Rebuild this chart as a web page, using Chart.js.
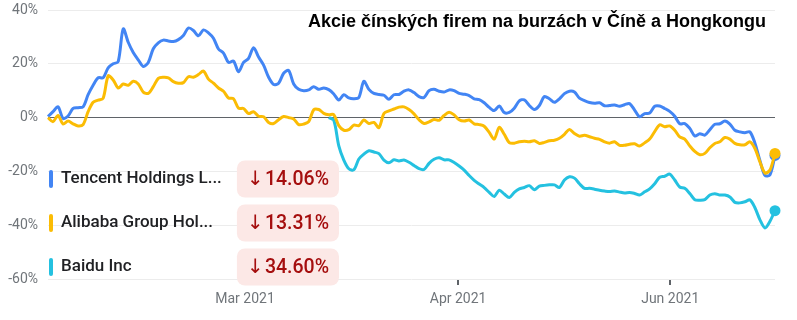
<!DOCTYPE html>
<html>
<head>
<meta charset="utf-8">
<script src="https://cdn.jsdelivr.net/npm/chart.js@4.4.1/dist/chart.umd.min.js"></script>
<style>
  html, body { margin: 0; padding: 0; background: #fff; }
  #wrap { width: 797px; height: 320px; position: relative; }
</style>
</head>
<body>
<div id="wrap"><canvas id="stockChart"></canvas></div>
<script>
// values in % change, one per trading day
const tencent = [
  0.4, 2.2, 4, -0.3, 0.6, 3.4, 3.7, 4, 8.5, 12,
  14.8, 14.8, 18.5, 20, 20.8, 33, 28, 24.2, 21.5, 19,
  20.5, 25.6, 27.8, 28.8, 28.5, 28.3, 29, 30.5, 33.3, 32.4,
  30.4, 32.6, 31.5, 29.5, 25.5, 24, 20.5, 21, 17, 20.5,
  22, 26, 22.5, 19.5, 15, 12.3, 12.8, 16.5, 17.5, 12.5,
  10.5, 10, 10.3, 11.5, 10.5, 11, 10.4, 8.8, 6.5, 8.5,
  7.3, 7, 7.5, 13.5, 10.5, 9, 8.6, 8.3, 6.8, 8.5,
  8.6, 9.8, 10.3, 9.3, 7.8, 7.5, 10, 10.5, 9.8, 9.5,
  10.3, 10, 9, 8.7, 8.2, 7, 6.7, 5.5, 3.8, 2.6,
  4.3, 1.9, 1.9, 3.5, 6.2, 6.6, 4.5, 3, 4.5, 7.8,
  7, 5.7, 7, 8.9, 9.8, 9.5, 7.2, 6.3, 5.6, 5.3,
  5.5, 4.4, 4.5, 4.7, 4.2, 4.8, 5.2, 2.8, 0.3, 1.5,
  1.7, 4.2, 4.3, 3.4, 2.3, 0.5, -2.3, -2.2, -4, -6.8,
  -6, -6.5, -4.5, -2.5, -2.3, -1.3, -2.4, -4.7, -5.3, -5.6,
  -5.3, -9.5, -16, -21.5, -21.3, -14.06
];
const alibaba = [
  0, -1.5, 0.8, -2.4, -1.3, -2.3, -3.1, -2.6, 2.2, 5.7,
  6.5, 7.2, 15.5, 14, 11, 12.5, 12, 13.5, 12.5, 9.5,
  9, 11.5, 14.6, 15, 14.8, 13.4, 12.8, 13, 15.2, 15,
  16, 17.3, 14.3, 12.8, 11, 9.8, 7.3, 7, 3.5, 3.4,
  1.5, 2.2, 0.5, 0.3, -1.8, -2.2, -0.8, 0.4, 0, -0.5,
  -2.6, -2.4, -1.5, 2.9, 3, 1.6, 1.1, 1.1, -3, -4.7,
  -4.5, -2.8, -3, -0.9, -2.2, -1.8, -3.7, 1.5, 2.5, 3.2,
  3.9, 4, 3, 1.4, -0.8, -2.2, -1.6, -0.7, -1, 0.8,
  2, 1, -0.8, -1.3, -0.9, -2.3, -2.6, -3.2, -5.5, -8,
  -3.6, -6.2, -9.3, -9.5, -9, -8.8, -9, -8.6, -9.6, -9.2,
  -8.6, -8.4, -7.7, -6.2, -4.4, -5.9, -6.9, -6.6, -7.1, -7.7,
  -8.1, -9, -9.5, -9, -10.3, -10.3, -9.9, -9.7, -10.6, -9.4,
  -8, -5.2, -2.7, -3.4, -3.1, -4.7, -7.2, -8, -10.5, -12.6,
  -13.8, -13.3, -11.2, -9.6, -9, -7.4, -8, -9.6, -10.1, -10.1,
  -9, -11.5, -16.5, -20.6, -19.5, -13.31
];
const baidu = Array(56).fill(null).concat([
  0, -1, -10.5, -15.8, -19, -19.4, -15.4, -13.6, -12.3, -12.8,
  -13.4, -15.8, -16.8, -15.7, -16.1, -15.8, -16.6, -17.8, -19, -19.3,
  -17, -15.5, -14.9, -15.7, -15.7, -16.7, -18, -19.5, -21.5, -23.3,
  -24.7, -26, -27.8, -29.3, -27, -28.4, -29.7, -27.8, -26.5, -26,
  -25.3, -26.8, -25.5, -25.2, -25, -25, -26, -23.2, -22, -22.5,
  -24.6, -26.3, -26.3, -26.6, -27, -27.3, -27.5, -27.3, -27.7, -28,
  -27.8, -28.2, -28.8, -27.6, -26.5, -24.6, -22.2, -21.8, -21, -23.2,
  -25.8, -26.3, -28.2, -30.5, -30.7, -30.5, -28.8, -28.3, -28.8, -28.8,
  -29.5, -31.5, -31.7, -31.3, -30.6, -33.5, -38, -41, -38.5, -34.6
]);

const seriesNames = ['Tencent Holdings L...', 'Alibaba Group Hol...', 'Baidu Inc'];
const seriesColors = ['#4285f4', '#fbbc04', '#24c1e0'];
const changes = ['14.06%', '13.31%', '34.60%'];

const tickLabels = ['Mar 2021', 'Apr 2021', 'Jun 2021'];
const tickPositions = [39.3, 81.8, 124.1];
const yTicks = [40, 20, 0, -20, -40, -60];

const title = 'Akcie čínských firem na burzách v Číně a Hongkongu';

const lastIdx = tencent.length - 1;
const labels = tencent.map((v, i) => i);

function lineDataset(name, data, color, order) {
    return {
        label: name,
        data: data,
        borderColor: color,
        backgroundColor: color,
        borderWidth: 3,
        tension: 0.3,
        order: order,
        clip: false,
        pointRadius: (c) => c.dataIndex === lastIdx ? 5.5 : 0,
        pointBorderWidth: 0,
        pointHoverRadius: 0
    };
}

// legend rows and red badges on the left, plus the title
const overlayPlugin = {
    id: 'overlay',
    afterDraw(chart) {
        const ctx = chart.ctx;
        ctx.save();
        ctx.font = 'bold 18px "Liberation Sans", Arial, sans-serif';
        ctx.fillStyle = '#000';
        ctx.textAlign = 'right';
        ctx.textBaseline = 'middle';
        ctx.fillText(title, 766, 22);

        const rows = [179, 223, 267];
        seriesNames.forEach((name, i) => {
            const y = rows[i];
            ctx.fillStyle = seriesColors[i];
            ctx.beginPath();
            ctx.roundRect(49, y - 9, 4, 18, 2);
            ctx.fill();

            ctx.fillStyle = '#202124';
            ctx.font = '500 17px Roboto, sans-serif';
            ctx.textAlign = 'left';
            ctx.fillText(name, 61, y);

            // badge: number, then a thin arrow in front of it
            ctx.font = '500 19.5px Roboto, sans-serif';
            const w = ctx.measureText(changes[i]).width;
            const left = 329 - w - 28;
            ctx.fillStyle = '#fce8e6';
            ctx.beginPath();
            ctx.roundRect(left, y - 18.5, 339 - left, 37, 8);
            ctx.fill();
            ctx.fillStyle = '#a50e0e';
            ctx.textAlign = 'right';
            ctx.fillText(changes[i], 329, y + 1);
            ctx.font = '20px "DejaVu Sans", sans-serif';
            ctx.textAlign = 'left';
            ctx.fillText('↓', left + 10, y + 1);
        });
        ctx.restore();
    }
};

const chart = new Chart(document.getElementById('stockChart'), {
    type: 'line',
    data: {
        labels: labels,
        datasets: [
            lineDataset(seriesNames[0], tencent, seriesColors[0], 1),
            lineDataset(seriesNames[1], alibaba, seriesColors[1], 0),
            lineDataset(seriesNames[2], baidu, seriesColors[2], 2)
        ]
    },
    options: {
        responsive: true,
        maintainAspectRatio: false,
        animation: false,
        spanGaps: false,
        layout: { padding: { top: 10, right: 22, left: 0, bottom: 0 } },
        plugins: {
            legend: { display: false },
            tooltip: { enabled: false }
        },
        scales: {
            x: {
                type: 'linear',
                min: 0,
                max: lastIdx,
                afterBuildTicks: (scale) => {
                    scale.ticks = tickPositions.map(v => ({ value: v }));
                },
                afterFit: (scale) => { scale.height = 41; },
                border: { display: false },
                grid: {
                    drawOnChartArea: false,
                    drawTicks: true,
                    tickLength: 6,
                    color: '#5f6368',
                    lineWidth: 2
                },
                ticks: {
                    autoSkip: false,
                    maxRotation: 0,
                    padding: 6,
                    color: '#70757a',
                    font: { family: 'Roboto', size: 14 },
                    callback: (value) => tickLabels[tickPositions.indexOf(value)]
                }
            },
            y: {
                min: -60,
                max: 40,
                afterBuildTicks: (scale) => {
                    scale.ticks = yTicks.map(v => ({ value: v }));
                },
                afterFit: (scale) => {
                    scale.width = 48;
                    scale.paddingTop = 0;
                    scale.paddingBottom = 0;
                },
                border: { display: false },
                grid: {
                    drawTicks: false,
                    color: (c) => c.tick.value === 0 ? '#5f6368' : '#ececec',
                    lineWidth: 1
                },
                ticks: {
                    padding: 10,
                    color: '#70757a',
                    font: { family: 'Roboto', size: 14 },
                    callback: (value) => value + '%'
                }
            }
        }
    },
    plugins: [overlayPlugin]
});
</script>
</body>
</html>
